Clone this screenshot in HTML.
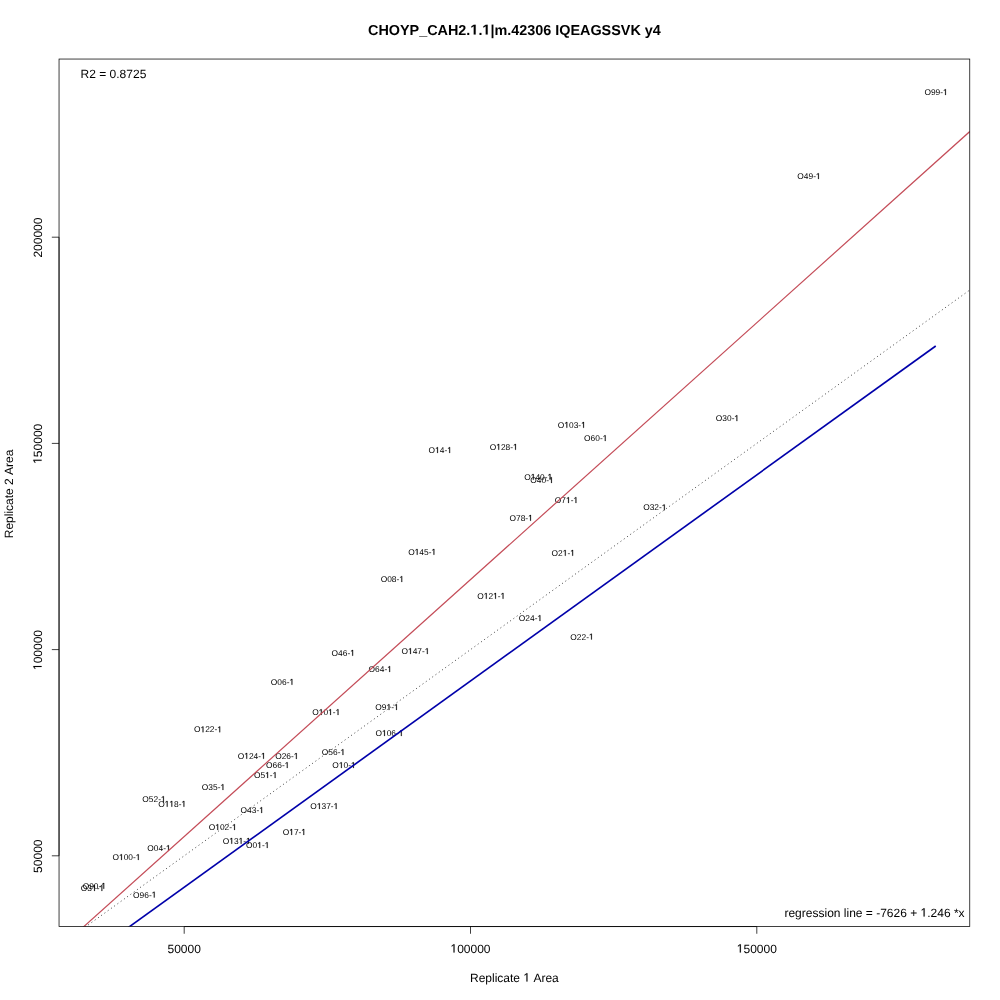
<!DOCTYPE html>
<html><head><meta charset="utf-8"><title>CHOYP_CAH2.1.1|m.42306 IQEAGSSVK y4</title><style>
html,body{margin:0;padding:0;background:#fff;}
svg{display:block;will-change:transform;}
text{font-family:"Liberation Sans",sans-serif;fill:#000;text-rendering:geometricPrecision;font-kerning:none;}
.h{fill-opacity:0;}
</style></head><body>
<svg width="1000" height="1000" viewBox="0 0 1000 1000">
<defs><clipPath id="pc"><rect x="59.04" y="59.04" width="910.72" height="867.52"/></clipPath></defs>
<rect width="1000" height="1000" fill="#fff"/>
<g class="txt">
<text id="t1" font-size="8.4" text-anchor="middle" x="936.05" y="95">O99-<tspan class="h">1</tspan></text>
<text id="t2" font-size="8.4" text-anchor="middle" x="808.95" y="179">O49-<tspan class="h">1</tspan></text>
<text id="t3" font-size="8.4" text-anchor="middle" x="571.85" y="427.8">O<tspan class="h">1</tspan>03-<tspan class="h">1</tspan></text>
<text id="t4" font-size="8.4" text-anchor="middle" x="595.75" y="441">O60-<tspan class="h">1</tspan></text>
<text id="t5" font-size="8.4" text-anchor="middle" x="727.45" y="421.1">O30-<tspan class="h">1</tspan></text>
<text id="t6" font-size="8.4" text-anchor="middle" x="440.25" y="453">O<tspan class="h">1</tspan>4-<tspan class="h">1</tspan></text>
<text id="t7" font-size="8.4" text-anchor="middle" x="503.75" y="449.75">O<tspan class="h">1</tspan>28-<tspan class="h">1</tspan></text>
<text id="t8" font-size="8.4" text-anchor="middle" x="538.25" y="479.75">O<tspan class="h">1</tspan>40-<tspan class="h">1</tspan></text>
<text id="t9" font-size="8.4" text-anchor="middle" x="542" y="483">O40-<tspan class="h">1</tspan></text>
<text id="t10" font-size="8.4" text-anchor="middle" x="566.5" y="503">O7<tspan class="h">1</tspan>-<tspan class="h">1</tspan></text>
<text id="t11" font-size="8.4" text-anchor="middle" x="521.15" y="520.75">O78-<tspan class="h">1</tspan></text>
<text id="t12" font-size="8.4" text-anchor="middle" x="654.85" y="510.2">O32-<tspan class="h">1</tspan></text>
<text id="t13" font-size="8.4" text-anchor="middle" x="422.15" y="554.75">O<tspan class="h">1</tspan>45-<tspan class="h">1</tspan></text>
<text id="t14" font-size="8.4" text-anchor="middle" x="563.25" y="555.75">O2<tspan class="h">1</tspan>-<tspan class="h">1</tspan></text>
<text id="t15" font-size="8.4" text-anchor="middle" x="392.35" y="582">O08-<tspan class="h">1</tspan></text>
<text id="t16" font-size="8.4" text-anchor="middle" x="491.25" y="598.75">O<tspan class="h">1</tspan>2<tspan class="h">1</tspan>-<tspan class="h">1</tspan></text>
<text id="t17" font-size="8.4" text-anchor="middle" x="530.5" y="621">O24-<tspan class="h">1</tspan></text>
<text id="t18" font-size="8.4" text-anchor="middle" x="582" y="639.5">O22-<tspan class="h">1</tspan></text>
<text id="t19" font-size="8.4" text-anchor="middle" x="343.25" y="655.75">O46-<tspan class="h">1</tspan></text>
<text id="t20" font-size="8.4" text-anchor="middle" x="415.5" y="654">O<tspan class="h">1</tspan>47-<tspan class="h">1</tspan></text>
<text id="t21" font-size="8.4" text-anchor="middle" x="380.25" y="672">O64-<tspan class="h">1</tspan></text>
<text id="t22" font-size="8.4" text-anchor="middle" x="282.5" y="684.75">O06-<tspan class="h">1</tspan></text>
<text id="t23" font-size="8.4" text-anchor="middle" x="326.25" y="715">O<tspan class="h">1</tspan>0<tspan class="h">1</tspan>-<tspan class="h">1</tspan></text>
<text id="t24" font-size="8.4" text-anchor="middle" x="387" y="710">O9<tspan class="h">1</tspan>-<tspan class="h">1</tspan></text>
<text id="t25" font-size="8.4" text-anchor="middle" x="389.5" y="736">O<tspan class="h">1</tspan>06-<tspan class="h">1</tspan></text>
<text id="t26" font-size="8.4" text-anchor="middle" x="208" y="732.25">O<tspan class="h">1</tspan>22-<tspan class="h">1</tspan></text>
<text id="t27" font-size="8.4" text-anchor="middle" x="251.75" y="758.75">O<tspan class="h">1</tspan>24-<tspan class="h">1</tspan></text>
<text id="t28" font-size="8.4" text-anchor="middle" x="286.85" y="758.9">O26-<tspan class="h">1</tspan></text>
<text id="t29" font-size="8.4" text-anchor="middle" x="333.5" y="755">O56-<tspan class="h">1</tspan></text>
<text id="t30" font-size="8.4" text-anchor="middle" x="277.75" y="768">O66-<tspan class="h">1</tspan></text>
<text id="t31" font-size="8.4" text-anchor="middle" x="344" y="768">O<tspan class="h">1</tspan>0-<tspan class="h">1</tspan></text>
<text id="t32" font-size="8.4" text-anchor="middle" x="265.65" y="778">O5<tspan class="h">1</tspan>-<tspan class="h">1</tspan></text>
<text id="t33" font-size="8.4" text-anchor="middle" x="213.5" y="790">O35-<tspan class="h">1</tspan></text>
<text id="t34" font-size="8.4" text-anchor="middle" x="154" y="802">O52-<tspan class="h">1</tspan></text>
<text id="t35" font-size="8.4" text-anchor="middle" x="172.15" y="806.75">O<tspan class="h">1</tspan><tspan class="h">1</tspan>8-<tspan class="h">1</tspan></text>
<text id="t36" font-size="8.4" text-anchor="middle" x="252.25" y="813">O43-<tspan class="h">1</tspan></text>
<text id="t37" font-size="8.4" text-anchor="middle" x="324.35" y="809">O<tspan class="h">1</tspan>37-<tspan class="h">1</tspan></text>
<text id="t38" font-size="8.4" text-anchor="middle" x="222.75" y="830">O<tspan class="h">1</tspan>02-<tspan class="h">1</tspan></text>
<text id="t39" font-size="8.4" text-anchor="middle" x="294.35" y="834.9">O<tspan class="h">1</tspan>7-<tspan class="h">1</tspan></text>
<text id="t40" font-size="8.4" text-anchor="middle" x="236.75" y="843.75">O<tspan class="h">1</tspan>3<tspan class="h">1</tspan>-<tspan class="h">1</tspan></text>
<text id="t41" font-size="8.4" text-anchor="middle" x="257.75" y="848">O0<tspan class="h">1</tspan>-<tspan class="h">1</tspan></text>
<text id="t42" font-size="8.4" text-anchor="middle" x="159" y="851">O04-<tspan class="h">1</tspan></text>
<text id="t43" font-size="8.4" text-anchor="middle" x="126.5" y="860">O<tspan class="h">1</tspan>00-<tspan class="h">1</tspan></text>
<text id="t44" font-size="8.4" text-anchor="middle" x="94.35" y="888.8">O90-<tspan class="h">1</tspan></text>
<text id="t45" font-size="8.4" text-anchor="middle" x="92.45" y="891">O3<tspan class="h">1</tspan>-<tspan class="h">1</tspan></text>
<text id="t46" font-size="8.4" text-anchor="middle" x="144.75" y="897.5">O96-<tspan class="h">1</tspan></text>
</g>
<path d="M945.13 95 945.13 89.93 943.83 90.86 943.83 90.16 945.19 89.22 945.87 89.22 945.87 95Z" stroke="#000" stroke-width="0.2" stroke-linejoin="round"/>
<path d="M818.03 179 818.03 173.93 816.73 174.86 816.73 174.16 818.09 173.22 818.77 173.22 818.77 179Z" stroke="#000" stroke-width="0.2" stroke-linejoin="round"/>
<path d="M566.49 427.8 566.49 422.73 565.19 423.66 565.19 422.96 566.56 422.02 567.24 422.02 567.24 427.8ZM583.26 427.8 583.26 422.73 581.95 423.66 581.95 422.96 583.32 422.02 584 422.02 584 427.8Z" stroke="#000" stroke-width="0.2" stroke-linejoin="round"/>
<path d="M604.83 441 604.83 435.93 603.53 436.86 603.53 436.16 604.89 435.22 605.57 435.22 605.57 441Z" stroke="#000" stroke-width="0.2" stroke-linejoin="round"/>
<path d="M736.53 421.1 736.53 416.03 735.23 416.96 735.23 416.26 736.59 415.32 737.27 415.32 737.27 421.1Z" stroke="#000" stroke-width="0.2" stroke-linejoin="round"/>
<path d="M437.22 453 437.22 447.93 435.92 448.86 435.92 448.16 437.28 447.22 437.96 447.22 437.96 453ZM449.33 453 449.33 447.93 448.03 448.86 448.03 448.16 449.39 447.22 450.07 447.22 450.07 453Z" stroke="#000" stroke-width="0.2" stroke-linejoin="round"/>
<path d="M498.39 449.75 498.39 444.68 497.09 445.61 497.09 444.91 498.46 443.97 499.14 443.97 499.14 449.75ZM515.16 449.75 515.16 444.68 513.85 445.61 513.85 444.91 515.22 443.97 515.9 443.97 515.9 449.75Z" stroke="#000" stroke-width="0.2" stroke-linejoin="round"/>
<path d="M532.89 479.75 532.89 474.68 531.59 475.61 531.59 474.91 532.96 473.97 533.64 473.97 533.64 479.75ZM549.66 479.75 549.66 474.68 548.35 475.61 548.35 474.91 549.72 473.97 550.4 473.97 550.4 479.75Z" stroke="#000" stroke-width="0.2" stroke-linejoin="round"/>
<path d="M551.08 483 551.08 477.93 549.78 478.86 549.78 478.16 551.14 477.22 551.82 477.22 551.82 483Z" stroke="#000" stroke-width="0.2" stroke-linejoin="round"/>
<path d="M568.14 503 568.14 497.93 566.84 498.86 566.84 498.16 568.21 497.22 568.89 497.22 568.89 503ZM575.58 503 575.58 497.93 574.28 498.86 574.28 498.16 575.64 497.22 576.32 497.22 576.32 503Z" stroke="#000" stroke-width="0.2" stroke-linejoin="round"/>
<path d="M530.23 520.75 530.23 515.68 528.93 516.61 528.93 515.91 530.29 514.97 530.97 514.97 530.97 520.75Z" stroke="#000" stroke-width="0.2" stroke-linejoin="round"/>
<path d="M663.93 510.2 663.93 505.13 662.63 506.06 662.63 505.36 663.99 504.42 664.67 504.42 664.67 510.2Z" stroke="#000" stroke-width="0.2" stroke-linejoin="round"/>
<path d="M416.79 554.75 416.79 549.68 415.49 550.61 415.49 549.91 416.86 548.97 417.54 548.97 417.54 554.75ZM433.56 554.75 433.56 549.68 432.25 550.61 432.25 549.91 433.62 548.97 434.3 548.97 434.3 554.75Z" stroke="#000" stroke-width="0.2" stroke-linejoin="round"/>
<path d="M564.89 555.75 564.89 550.68 563.59 551.61 563.59 550.91 564.96 549.97 565.64 549.97 565.64 555.75ZM572.33 555.75 572.33 550.68 571.03 551.61 571.03 550.91 572.39 549.97 573.07 549.97 573.07 555.75Z" stroke="#000" stroke-width="0.2" stroke-linejoin="round"/>
<path d="M401.43 582 401.43 576.93 400.13 577.86 400.13 577.16 401.49 576.22 402.17 576.22 402.17 582Z" stroke="#000" stroke-width="0.2" stroke-linejoin="round"/>
<path d="M485.89 598.75 485.89 593.68 484.59 594.61 484.59 593.91 485.96 592.97 486.64 592.97 486.64 598.75ZM495.22 598.75 495.22 593.68 493.92 594.61 493.92 593.91 495.28 592.97 495.96 592.97 495.96 598.75ZM502.66 598.75 502.66 593.68 501.35 594.61 501.35 593.91 502.72 592.97 503.4 592.97 503.4 598.75Z" stroke="#000" stroke-width="0.2" stroke-linejoin="round"/>
<path d="M539.58 621 539.58 615.93 538.28 616.86 538.28 616.16 539.64 615.22 540.32 615.22 540.32 621Z" stroke="#000" stroke-width="0.2" stroke-linejoin="round"/>
<path d="M591.08 639.5 591.08 634.43 589.78 635.36 589.78 634.66 591.14 633.72 591.82 633.72 591.82 639.5Z" stroke="#000" stroke-width="0.2" stroke-linejoin="round"/>
<path d="M352.33 655.75 352.33 650.68 351.03 651.61 351.03 650.91 352.39 649.97 353.07 649.97 353.07 655.75Z" stroke="#000" stroke-width="0.2" stroke-linejoin="round"/>
<path d="M410.14 654 410.14 648.93 408.84 649.86 408.84 649.16 410.21 648.22 410.89 648.22 410.89 654ZM426.91 654 426.91 648.93 425.6 649.86 425.6 649.16 426.97 648.22 427.65 648.22 427.65 654Z" stroke="#000" stroke-width="0.2" stroke-linejoin="round"/>
<path d="M389.33 672 389.33 666.93 388.03 667.86 388.03 667.16 389.39 666.22 390.07 666.22 390.07 672Z" stroke="#000" stroke-width="0.2" stroke-linejoin="round"/>
<path d="M291.58 684.75 291.58 679.68 290.28 680.61 290.28 679.91 291.64 678.97 292.32 678.97 292.32 684.75Z" stroke="#000" stroke-width="0.2" stroke-linejoin="round"/>
<path d="M320.89 715 320.89 709.93 319.59 710.86 319.59 710.16 320.96 709.22 321.64 709.22 321.64 715ZM330.22 715 330.22 709.93 328.92 710.86 328.92 710.16 330.28 709.22 330.96 709.22 330.96 715ZM337.66 715 337.66 709.93 336.35 710.86 336.35 710.16 337.72 709.22 338.4 709.22 338.4 715Z" stroke="#000" stroke-width="0.2" stroke-linejoin="round"/>
<path d="M388.64 710 388.64 704.93 387.34 705.86 387.34 705.16 388.71 704.22 389.39 704.22 389.39 710ZM396.08 710 396.08 704.93 394.78 705.86 394.78 705.16 396.14 704.22 396.82 704.22 396.82 710Z" stroke="#000" stroke-width="0.2" stroke-linejoin="round"/>
<path d="M384.14 736 384.14 730.93 382.84 731.86 382.84 731.16 384.21 730.22 384.89 730.22 384.89 736ZM400.91 736 400.91 730.93 399.6 731.86 399.6 731.16 400.97 730.22 401.65 730.22 401.65 736Z" stroke="#000" stroke-width="0.2" stroke-linejoin="round"/>
<path d="M202.64 732.25 202.64 727.18 201.34 728.11 201.34 727.41 202.71 726.47 203.39 726.47 203.39 732.25ZM219.41 732.25 219.41 727.18 218.1 728.11 218.1 727.41 219.47 726.47 220.15 726.47 220.15 732.25Z" stroke="#000" stroke-width="0.2" stroke-linejoin="round"/>
<path d="M246.39 758.75 246.39 753.68 245.09 754.61 245.09 753.91 246.46 752.97 247.14 752.97 247.14 758.75ZM263.16 758.75 263.16 753.68 261.85 754.61 261.85 753.91 263.22 752.97 263.9 752.97 263.9 758.75Z" stroke="#000" stroke-width="0.2" stroke-linejoin="round"/>
<path d="M295.93 758.9 295.93 753.83 294.63 754.76 294.63 754.06 295.99 753.12 296.67 753.12 296.67 758.9Z" stroke="#000" stroke-width="0.2" stroke-linejoin="round"/>
<path d="M342.58 755 342.58 749.93 341.28 750.86 341.28 750.16 342.64 749.22 343.32 749.22 343.32 755Z" stroke="#000" stroke-width="0.2" stroke-linejoin="round"/>
<path d="M286.83 768 286.83 762.93 285.53 763.86 285.53 763.16 286.89 762.22 287.57 762.22 287.57 768Z" stroke="#000" stroke-width="0.2" stroke-linejoin="round"/>
<path d="M340.97 768 340.97 762.93 339.67 763.86 339.67 763.16 341.03 762.22 341.71 762.22 341.71 768ZM353.08 768 353.08 762.93 351.78 763.86 351.78 763.16 353.14 762.22 353.82 762.22 353.82 768Z" stroke="#000" stroke-width="0.2" stroke-linejoin="round"/>
<path d="M267.29 778 267.29 772.93 265.99 773.86 265.99 773.16 267.36 772.22 268.04 772.22 268.04 778ZM274.73 778 274.73 772.93 273.43 773.86 273.43 773.16 274.79 772.22 275.47 772.22 275.47 778Z" stroke="#000" stroke-width="0.2" stroke-linejoin="round"/>
<path d="M222.58 790 222.58 784.93 221.28 785.86 221.28 785.16 222.64 784.22 223.32 784.22 223.32 790Z" stroke="#000" stroke-width="0.2" stroke-linejoin="round"/>
<path d="M163.08 802 163.08 796.93 161.78 797.86 161.78 797.16 163.14 796.22 163.82 796.22 163.82 802Z" stroke="#000" stroke-width="0.2" stroke-linejoin="round"/>
<path d="M166.79 806.75 166.79 801.68 165.49 802.61 165.49 801.91 166.86 800.97 167.54 800.97 167.54 806.75ZM171.47 806.75 171.47 801.68 170.16 802.61 170.16 801.91 171.53 800.97 172.21 800.97 172.21 806.75ZM183.56 806.75 183.56 801.68 182.25 802.61 182.25 801.91 183.62 800.97 184.3 800.97 184.3 806.75Z" stroke="#000" stroke-width="0.2" stroke-linejoin="round"/>
<path d="M261.33 813 261.33 807.93 260.03 808.86 260.03 808.16 261.39 807.22 262.07 807.22 262.07 813Z" stroke="#000" stroke-width="0.2" stroke-linejoin="round"/>
<path d="M318.99 809 318.99 803.93 317.69 804.86 317.69 804.16 319.06 803.22 319.74 803.22 319.74 809ZM335.76 809 335.76 803.93 334.45 804.86 334.45 804.16 335.82 803.22 336.5 803.22 336.5 809Z" stroke="#000" stroke-width="0.2" stroke-linejoin="round"/>
<path d="M217.39 830 217.39 824.93 216.09 825.86 216.09 825.16 217.46 824.22 218.14 824.22 218.14 830ZM234.16 830 234.16 824.93 232.85 825.86 232.85 825.16 234.22 824.22 234.9 824.22 234.9 830Z" stroke="#000" stroke-width="0.2" stroke-linejoin="round"/>
<path d="M291.32 834.9 291.32 829.83 290.02 830.76 290.02 830.06 291.38 829.12 292.06 829.12 292.06 834.9ZM303.43 834.9 303.43 829.83 302.13 830.76 302.13 830.06 303.49 829.12 304.17 829.12 304.17 834.9Z" stroke="#000" stroke-width="0.2" stroke-linejoin="round"/>
<path d="M231.39 843.75 231.39 838.68 230.09 839.61 230.09 838.91 231.46 837.97 232.14 837.97 232.14 843.75ZM240.72 843.75 240.72 838.68 239.42 839.61 239.42 838.91 240.78 837.97 241.46 837.97 241.46 843.75ZM248.16 843.75 248.16 838.68 246.85 839.61 246.85 838.91 248.22 837.97 248.9 837.97 248.9 843.75Z" stroke="#000" stroke-width="0.2" stroke-linejoin="round"/>
<path d="M259.39 848 259.39 842.93 258.09 843.86 258.09 843.16 259.46 842.22 260.14 842.22 260.14 848ZM266.83 848 266.83 842.93 265.53 843.86 265.53 843.16 266.89 842.22 267.57 842.22 267.57 848Z" stroke="#000" stroke-width="0.2" stroke-linejoin="round"/>
<path d="M168.08 851 168.08 845.93 166.78 846.86 166.78 846.16 168.14 845.22 168.82 845.22 168.82 851Z" stroke="#000" stroke-width="0.2" stroke-linejoin="round"/>
<path d="M121.14 860 121.14 854.93 119.84 855.86 119.84 855.16 121.21 854.22 121.89 854.22 121.89 860ZM137.91 860 137.91 854.93 136.6 855.86 136.6 855.16 137.97 854.22 138.65 854.22 138.65 860Z" stroke="#000" stroke-width="0.2" stroke-linejoin="round"/>
<path d="M103.43 888.8 103.43 883.73 102.13 884.66 102.13 883.96 103.49 883.02 104.17 883.02 104.17 888.8Z" stroke="#000" stroke-width="0.2" stroke-linejoin="round"/>
<path d="M94.09 891 94.09 885.93 92.79 886.86 92.79 886.16 94.16 885.22 94.84 885.22 94.84 891ZM101.53 891 101.53 885.93 100.23 886.86 100.23 886.16 101.59 885.22 102.27 885.22 102.27 891Z" stroke="#000" stroke-width="0.2" stroke-linejoin="round"/>
<path d="M153.83 897.5 153.83 892.43 152.53 893.36 152.53 892.66 153.89 891.72 154.57 891.72 154.57 897.5Z" stroke="#000" stroke-width="0.2" stroke-linejoin="round"/>
<g clip-path="url(#pc)"><line x1="59.04" y1="945.94" x2="969.76" y2="290.02" stroke="#000" stroke-width="0.75" stroke-dasharray="1 3"/><line x1="59.04" y1="948.84" x2="969.76" y2="131.56" stroke="#c44c58" stroke-width="1.2"/><line x1="92.77" y1="953.1" x2="935.74" y2="345.97" stroke="#0000aa" stroke-width="1.65"/></g>
<rect x="59.04" y="59.04" width="910.72" height="867.52" fill="none" stroke="#000" stroke-width="0.75"/>
<g stroke="#000" stroke-width="0.75"><line x1="184.2" y1="926.56" x2="756.8" y2="926.56"/><line x1="184.2" y1="926.56" x2="184.2" y2="933.76"/><line x1="470.5" y1="926.56" x2="470.5" y2="933.76"/><line x1="756.8" y1="926.56" x2="756.8" y2="933.76"/><line x1="59.04" y1="855.8" x2="59.04" y2="237.2"/><line x1="59.04" y1="855.8" x2="51.84" y2="855.8"/><line x1="59.04" y1="649.6" x2="51.84" y2="649.6"/><line x1="59.04" y1="443.4" x2="51.84" y2="443.4"/><line x1="59.04" y1="237.2" x2="51.84" y2="237.2"/></g>
<g class="txt">
<text id="t0" font-size="14.4" font-weight="bold" text-anchor="middle" x="514.4" y="34.6">CHOYP_CAH2.<tspan class="h">1</tspan>.<tspan class="h">1</tspan>|m.42306 IQEAGSSVK y4</text>
<text id="t47" font-size="12" text-anchor="middle" x="184.2" y="952.6">50000</text>
<text id="t48" font-size="12" text-anchor="middle" x="470.5" y="952.6"><tspan class="h">1</tspan>00000</text>
<text id="t49" font-size="12" text-anchor="middle" x="756.8" y="952.6"><tspan class="h">1</tspan>50000</text>
<text id="t50" font-size="12" text-anchor="middle" transform="translate(41.6 856.2) rotate(-90)">50000</text>
<text id="t51" font-size="12" text-anchor="middle" transform="translate(41.6 650) rotate(-90)"><tspan class="h">1</tspan>00000</text>
<text id="t52" font-size="12" text-anchor="middle" transform="translate(41.6 443.8) rotate(-90)"><tspan class="h">1</tspan>50000</text>
<text id="t53" font-size="12" text-anchor="middle" transform="translate(41.6 237.6) rotate(-90)">200000</text>
<text id="t54" font-size="12" text-anchor="middle" x="514.4" y="981.6">Replicate <tspan class="h">1</tspan> Area</text>
<text id="t55" font-size="12" text-anchor="middle" transform="translate(12.8 493.9) rotate(-90)">Replicate 2 Area</text>
<text id="t56" font-size="12" x="80.6" y="77.6">R2 = 0.8725</text>
<text id="t57" font-size="12" text-anchor="end" x="964.6" y="916.6">regression line = -7626 + <tspan class="h">1</tspan>.246 *x</text>
</g>
<path d="M473.71 34.6 473.71 26.37 471.34 27.86 471.34 26.3 473.82 24.69 475.69 24.69 475.69 34.6ZM485.71 34.6 485.71 26.37 483.34 27.86 483.34 26.3 485.82 24.69 487.69 24.69 487.69 34.6Z" stroke="#000" stroke-width="0.1" stroke-linejoin="round"/>
<path d="M453.49 952.6 453.49 945.35 451.63 946.68 451.63 945.69 453.58 944.34 454.55 944.34 454.55 952.6Z" stroke="#000" stroke-width="0.12" stroke-linejoin="round"/>
<path d="M739.79 952.6 739.79 945.35 737.93 946.68 737.93 945.69 739.88 944.34 740.85 944.34 740.85 952.6Z" stroke="#000" stroke-width="0.12" stroke-linejoin="round"/>
<g transform="translate(41.6 650) rotate(-90)"><path d="M-17.01 0 -17.01 -7.25 -18.87 -5.92 -18.87 -6.91 -16.92 -8.26 -15.95 -8.26 -15.95 0Z" stroke="#000" stroke-width="0.12" stroke-linejoin="round"/></g>
<g transform="translate(41.6 443.8) rotate(-90)"><path d="M-17.01 0 -17.01 -7.25 -18.87 -5.92 -18.87 -6.91 -16.92 -8.26 -15.95 -8.26 -15.95 0Z" stroke="#000" stroke-width="0.12" stroke-linejoin="round"/></g>
<path d="M526.42 981.6 526.42 974.35 524.55 975.68 524.55 974.69 526.51 973.34 527.48 973.34 527.48 981.6Z" stroke="#000" stroke-width="0.12" stroke-linejoin="round"/>
<path d="M923.57 916.6 923.57 909.35 921.71 910.68 921.71 909.69 923.66 908.34 924.63 908.34 924.63 916.6Z" stroke="#000" stroke-width="0.12" stroke-linejoin="round"/>
</svg>
</body></html>
